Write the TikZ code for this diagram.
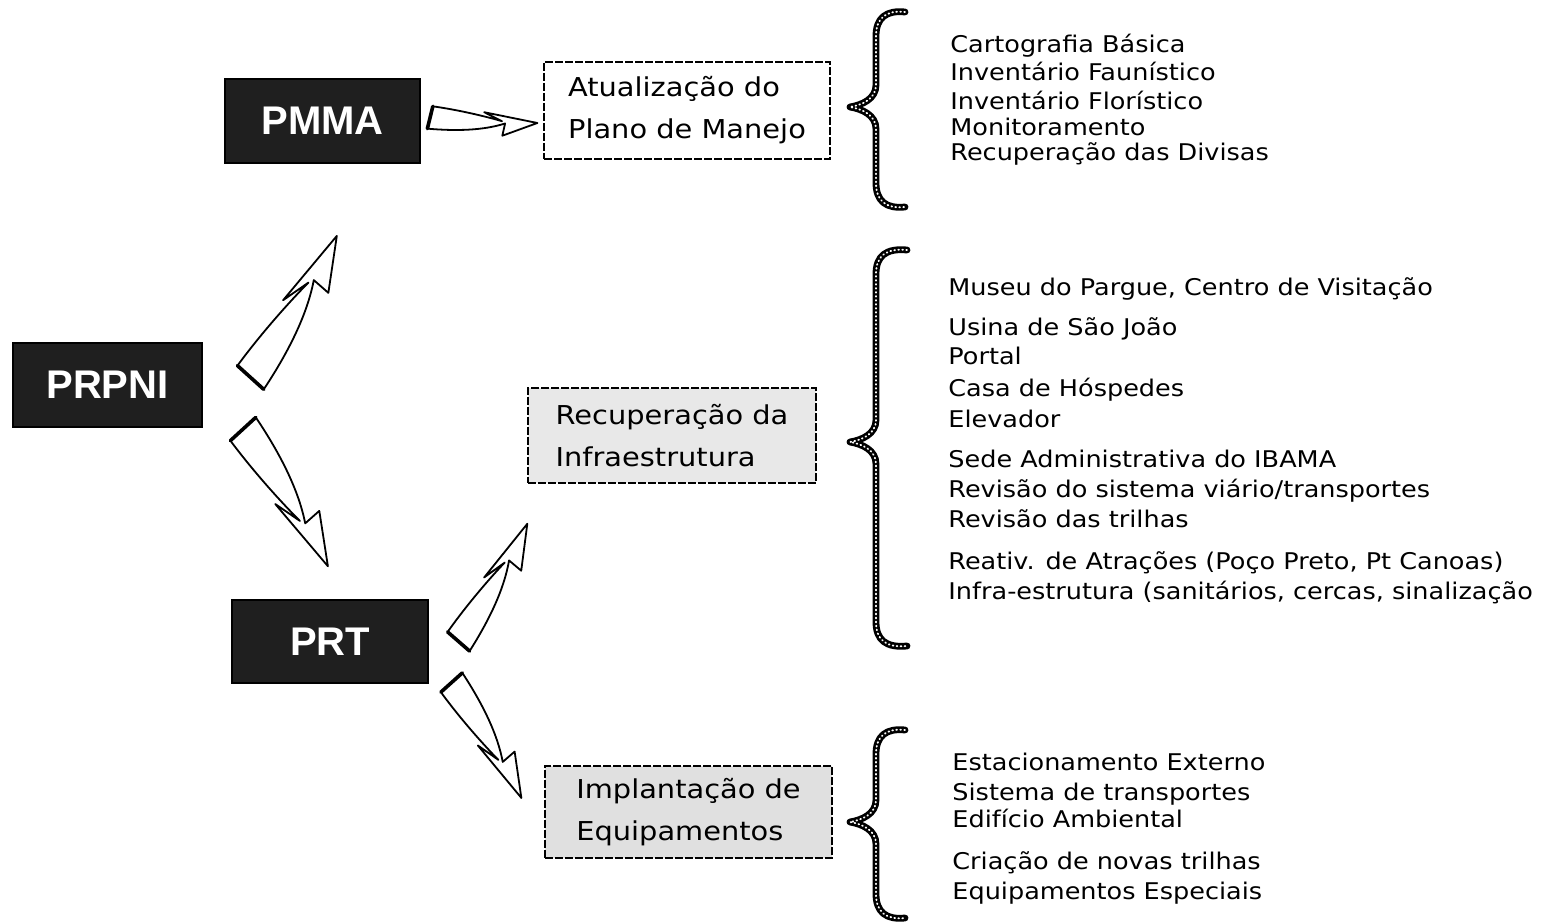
\documentclass[tikz,border=0pt]{standalone}
\usepackage{fontspec}
\usetikzlibrary{calc}
\setmainfont[FakeStretch=1.11]{DejaVu Sans}
\newfontfamily\boxfont{Liberation Sans}
\newcommand\flasharrow[3]{%
  \pgfpointdiff{\pgfpointanchor{#1}{center}}{\pgfpointanchor{#2}{center}}%
  \pgfgetlastxy{\fdx}{\fdy}%
  \pgfmathsetmacro\flen{veclen(\fdx,\fdy)}%
  \pgfmathsetmacro\fang{atan2(\fdy,\fdx)}%
  \pgfmathsetmacro\fsl{#3*\flen}%
  \begin{scope}[shift={(#1)}, rotate=\fang, x={(\flen pt,0pt)}, y={(0pt,\fsl pt)}]
    \draw[flash] (0.02,0.105) .. controls (0.25,0.085) and (0.5,0.04) .. (0.67,0.0)
      -- (0.50,0.075) -- (1,0) -- (0.68,-0.135) -- (0.70,-0.02)
      .. controls (0.5,-0.095) and (0.25,-0.115) .. (-0.02,-0.105) -- cycle;
    \draw[line width=1.8pt, line cap=round] (0.02,0.105) -- (-0.02,-0.105);
  \end{scope}}
\begin{document}
\begin{tikzpicture}[x=0.5pt,y=-0.5pt,
  dark/.style={fill=black!88, draw=black, line width=0.6pt, text=white,
    font=\boxfont\bfseries\fontsize{20}{24}\selectfont, inner sep=0pt},
  lightbox/.style={draw=black, line width=0.6pt, dash pattern=on 4pt off 1pt,
    align=left, font=\fontsize{13}{21}\selectfont, inner sep=0pt},
  item/.style={anchor=base west, inner sep=0pt, font=\fontsize{11.5}{13}\selectfont},
  flash/.style={draw=black, fill=white, line width=0.9pt, line join=round},
  brace/.style={draw=black, line width=3.4pt, line cap=round, line join=round},
  bracein/.style={draw=white, line width=0.9pt, dash pattern=on 0.4pt off 1.6pt, line cap=round}]
\useasboundingbox (0,0) rectangle (1541,924);
% main boxes
\node[dark, minimum width=94.5pt, minimum height=42pt] (prpni) at (107.5,385) {PRPNI};
\node[dark, minimum width=97.5pt, minimum height=42pt] (pmma) at (322.5,121) {PMMA};
\node[dark, minimum width=98pt, minimum height=41.5pt] (prt) at (330,641.5) {PRT};
\node[lightbox, fill=white, minimum width=143pt, minimum height=48.5pt] (atu) at (687,110.5) {Atualização do\\Plano de Manejo};
\node[lightbox, fill=black!9, minimum width=144pt, minimum height=47.5pt] (rec) at (672,435.5) {Recuperação da\\Infraestrutura};
\node[lightbox, fill=black!12, minimum width=143.5pt, minimum height=46pt] (imp) at (688.5,812) {Implantação de\\Equipamentos};
% arrow end points
\coordinate (a1t) at ($(prpni.east)+(48,-7.5)$);
\coordinate (a1h) at ($(pmma.south)+(14.5,72)$);
\coordinate (a2t) at ($(prpni.east)+(40.5,44)$);
\coordinate (a2h) at ($(prt.north)+(-2,-33)$);
\coordinate (a3t) at ($(pmma.east)+(9.5,-3.5)$);
\coordinate (a3h) at ($(atu.west)+(-6,12.5)$);
\coordinate (a4t) at ($(prt.east)+(30,0)$);
\coordinate (a4h) at ($(rec.south west)+(0,40)$);
\coordinate (a5t) at ($(prt.east)+(23,41)$);
\coordinate (a5h) at ($(imp.west)+(-23,-14)$);
\flasharrow{a1t}{a1h}{1}
\flasharrow{a2t}{a2h}{-1}
\flasharrow{a3t}{a3h}{1}
\flasharrow{a4t}{a4h}{1}
\flasharrow{a5t}{a5h}{-1}
% braces
\foreach \s in {brace,bracein}{
\draw[\s] (905,12) .. controls (886,10) and (876,18) .. (876,36) -- (876,85)
  .. controls (876,99) and (862,105) .. (850,107) .. controls (862,109) and (876,115) .. (876,129)
  -- (876,183) .. controls (876,201) and (886,209) .. (905,207);
\draw[\s] (907,250) .. controls (886,248) and (876,256) .. (876,274) -- (876,420)
  .. controls (876,434) and (862,440) .. (850,442) .. controls (862,444) and (876,450) .. (876,464)
  -- (876,622) .. controls (876,640) and (886,648) .. (907,646);
\draw[\s] (905,730) .. controls (886,728) and (876,736) .. (876,754) -- (876,800)
  .. controls (876,814) and (862,820) .. (850,822) .. controls (862,824) and (876,830) .. (876,844)
  -- (876,894) .. controls (876,912) and (886,920) .. (905,918);
}
% lists
\node[item] (b1) at (950,53) {Cartografia Básica};
\node[item] (b2) at (950,81) {Inventário Faunístico};
\node[item] (b3) at (950,110) {Inventário Florístico};
\node[item] (b4) at (950,136) {Monitoramento};
\node[item] (b5) at (950,161) {Recuperação das Divisas};
\node[item] (c1) at (948,296) {Museu do Pargue, Centro de Visitação};
\node[item] (c2) at (948,336) {Usina de São João};
\node[item] (c3) at (948,365) {Portal};
\node[item] (c4) at (948,397) {Casa de Hóspedes};
\node[item] (c5) at (948,428) {Elevador};
\node[item] (c6) at (948,468) {Sede Administrativa do IBAMA};
\node[item] (c7) at (948,498) {Revisão do sistema viário/transportes};
\node[item] (c8) at (948,528) {Revisão das trilhas};
\node[item] (c9) at (948,569) {Reativ. de Atrações (Poço Preto, Pt Canoas)};
\node[item] (c10) at (948,599) {Infra-estrutura (sanitários, cercas, sinalização};
\node[item] (d1) at (952,770) {Estacionamento Externo};
\node[item] (d2) at (952,800) {Sistema de transportes};
\node[item] (d3) at (952,827) {Edifício Ambiental};
\node[item] (d4) at (952,869) {Criação de novas trilhas};
\node[item] (d5) at (952,899) {Equipamentos Especiais};
\end{tikzpicture}
\end{document}
